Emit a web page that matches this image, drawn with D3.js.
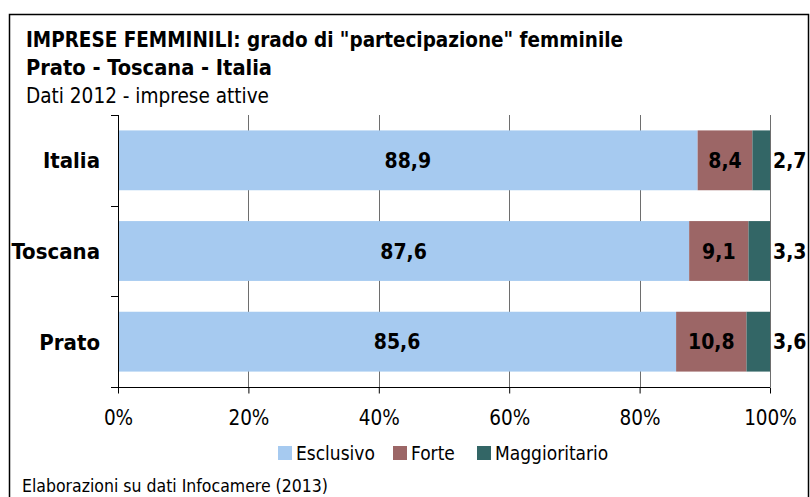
<!DOCTYPE html>
<html>
<head>
<meta charset="utf-8">
<script src="https://cdn.jsdelivr.net/npm/d3@7"></script>
<style>
  body { margin: 0; background: #fff; }
  text { font-family: "DejaVu Sans Condensed", "DejaVu Sans", sans-serif; fill: #000; }
</style>
</head>
<body>
<svg id="chart" width="810" height="497"></svg>
<script>
"use strict";

// data
var categories = ["Italia", "Toscana", "Prato"];
var seriesNames = ["Esclusivo", "Forte", "Maggioritario"];
var esclusivo = [88.9, 87.6, 85.6];
var forte = [8.4, 9.1, 10.8];
var maggioritario = [2.7, 3.3, 3.6];
var tickValues = [0, 0.2, 0.4, 0.6, 0.8, 1];
var colors = ["#a6caf0", "#9c6666", "#336666"];

var svg = d3.select("#chart");

// chart frame (bottom edge falls outside the picture)
svg.append("rect")
  .attr("x", 9.5).attr("y", 14.5)
  .attr("width", 799).attr("height", 500)
  .attr("fill", "#fff")
  .attr("stroke", "#000")
  .attr("stroke-width", 1.5);

// titles
svg.append("text")
  .attr("x", 26).attr("y", 47)
  .attr("font-size", 21).attr("font-weight", "bold")
  .attr("textLength", 597).attr("lengthAdjust", "spacingAndGlyphs")
  .text("IMPRESE FEMMINILI: grado di \"partecipazione\" femminile");
svg.append("text")
  .attr("x", 26).attr("y", 75)
  .attr("font-size", 21).attr("font-weight", "bold")
  .attr("textLength", 246).attr("lengthAdjust", "spacingAndGlyphs")
  .text("Prato - Toscana - Italia");
svg.append("text")
  .attr("x", 26).attr("y", 103)
  .attr("font-size", 20.5)
  .attr("textLength", 243).attr("lengthAdjust", "spacingAndGlyphs")
  .text("Dati 2012 - imprese attive");

// scales
var x = d3.scaleLinear().domain([0, 1]).range([118, 770]);
var y = d3.scaleBand().domain(categories).range([115, 387])
  .paddingInner(0.34).paddingOuter(0.17);

// stacked rows built from the arrays
var rows = categories.map(function(c, i) {
  return {cat: c, Esclusivo: esclusivo[i], Forte: forte[i], Maggioritario: maggioritario[i]};
});
var series = d3.stack().keys(seriesNames)(rows);
var color = d3.scaleOrdinal().domain(seriesNames).range(colors);

var it = d3.formatLocale({decimal: ",", thousands: ".", grouping: [3], currency: ["€", ""]});
var fmt = it.format(".1f");

// gridlines
svg.append("g")
  .selectAll("line")
  .data(tickValues.slice(1))
  .enter().append("line")
  .attr("x1", function(d) { return Math.round(x(d)) + 0.5; })
  .attr("x2", function(d) { return Math.round(x(d)) + 0.5; })
  .attr("y1", 115).attr("y2", 387)
  .attr("stroke", "#6e6e6e").attr("stroke-width", 1);

// bars
var groups = svg.append("g").selectAll("g.series")
  .data(series)
  .enter().append("g")
  .attr("class", "series")
  .attr("fill", function(d) { return color(d.key); });

groups.selectAll("rect")
  .data(function(d) { return d; })
  .enter().append("rect")
  .attr("x", function(d) { return x(d[0] / 100); })
  .attr("width", function(d) { return x(d[1] / 100) - x(d[0] / 100); })
  .attr("y", function(d) { return y(d.data.cat); })
  .attr("height", y.bandwidth());

// data labels (the last series sits outside the bar end)
series.forEach(function(s, si) {
  svg.append("g").selectAll("text")
    .data(s)
    .enter().append("text")
    .attr("x", function(d) {
      if (si === 2) return x(1) + 3;
      return (x(d[0] / 100) + x(d[1] / 100)) / 2;
    })
    .attr("y", function(d) { return y(d.data.cat) + y.bandwidth() / 2; })
    .attr("dy", "0.36em")
    .attr("text-anchor", si === 2 ? "start" : "middle")
    .attr("font-family", "DejaVu Sans")
    .attr("font-weight", "bold")
    .attr("font-size", 21)
    .text(function(d) { return fmt(d[1] - d[0]); });
});

// y axis: line + ticks at band boundaries
var bounds = categories.map(function(c) { return y(c) - y.step() * y.paddingInner() / 2; });
bounds.push(387);
var yAxis = svg.append("g").attr("stroke", "#000").attr("stroke-width", 1);
yAxis.append("line")
  .attr("x1", 118.5).attr("x2", 118.5).attr("y1", 115).attr("y2", 387);
yAxis.selectAll("line.tick")
  .data(bounds)
  .enter().append("line")
  .attr("class", "tick")
  .attr("x1", 111).attr("x2", 118.5)
  .attr("y1", function(d) { return Math.round(d) + 0.5; })
  .attr("y2", function(d) { return Math.round(d) + 0.5; });

// category labels
svg.append("g").selectAll("text")
  .data(categories)
  .enter().append("text")
  .attr("x", 100)
  .attr("y", function(d) { return y(d) + y.bandwidth() / 2; })
  .attr("dy", "0.36em")
  .attr("text-anchor", "end")
  .attr("font-weight", "bold")
  .attr("font-size", 22)
  .text(function(d) { return d; });

// x axis
var xAxis = svg.append("g")
  .attr("transform", "translate(0,387.5)")
  .call(d3.axisBottom(x).tickValues(tickValues).tickFormat(d3.format(".0%"))
    .tickSize(6).tickSizeOuter(0).tickPadding(17));
xAxis.select(".domain").attr("stroke", "#000").attr("d", "M111,0H770");
xAxis.selectAll(".tick line").attr("stroke", "#000");
xAxis.selectAll(".tick text")
  .attr("font-family", "DejaVu Sans Condensed")
  .attr("font-size", 20.5)
  .attr("fill", "#000");

// legend
var legendItems = [
  {name: seriesNames[0], x: 278},
  {name: seriesNames[1], x: 393},
  {name: seriesNames[2], x: 477}
];
var legend = svg.append("g").selectAll("g")
  .data(legendItems)
  .enter().append("g")
  .attr("transform", function(d) { return "translate(" + d.x + ",446)"; });
legend.append("rect")
  .attr("width", 14).attr("height", 14)
  .attr("fill", function(d) { return color(d.name); });
legend.append("text")
  .attr("x", 18).attr("y", 7)
  .attr("dy", "0.36em")
  .attr("font-size", 19)
  .text(function(d) { return d.name; });

// source note
svg.append("text")
  .attr("x", 22).attr("y", 492)
  .attr("font-size", 17.5)
  .text("Elaborazioni su dati Infocamere (2013)");
</script>
</body>
</html>
